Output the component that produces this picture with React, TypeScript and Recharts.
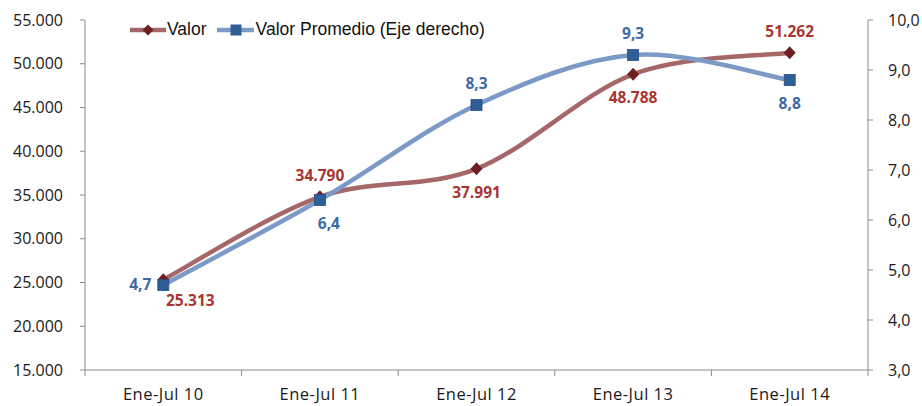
import React from 'react';
import { LineChart, Line, XAxis, YAxis, LabelList } from 'recharts';

const periods = ['Ene-Jul 10', 'Ene-Jul 11', 'Ene-Jul 12', 'Ene-Jul 13', 'Ene-Jul 14'];
const valor = [25313, 34790, 37991, 48788, 51262];
const promedio = [4.7, 6.4, 8.3, 9.3, 8.8];
const leftTicks = [15000, 20000, 25000, 30000, 35000, 40000, 45000, 50000, 55000];
const rightTicks = [3, 4, 5, 6, 7, 8, 9, 10];

// where each value label sits relative to its point
const valorLabelPos = ['belowRight', 'above', 'below', 'below', 'above'];
const promedioLabelPos = ['left', 'belowRight', 'above', 'above', 'below'];

const data = periods.map((p, i) => ({ name: p, valor: valor[i], promedio: promedio[i] }));

const RED_LINE = '#a56767';
const RED_MARK = '#6e1f22';
const RED_TEXT = '#a8352f';
const BLUE_LINE = '#7b9bc6';
const BLUE_MARK = '#2f5e97';
const BLUE_TEXT = '#3d6aa5';
const AXIS = '#8c8c8c';
const TICK_FONT = '"Open Sans", "Noto Sans", sans-serif';

const PLOT_W = 783;
const BAND = PLOT_W / periods.length;

// Excel-like smoothed line (catmull-rom style bezier)
const smoothCurve = (context: any) => {
  let pts: [number, number][] = [];
  return {
    areaStart() {},
    areaEnd() {},
    lineStart() {
      pts = [];
    },
    point(x: number, y: number) {
      pts.push([+x, +y]);
    },
    lineEnd() {
      if (!pts.length) return;
      context.moveTo(pts[0][0], pts[0][1]);
      for (let i = 0; i < pts.length - 1; i++) {
        const p0 = pts[i - 1] ?? pts[i];
        const p1 = pts[i];
        const p2 = pts[i + 1];
        const p3 = pts[i + 2] ?? p2;
        context.bezierCurveTo(
          p1[0] + (p2[0] - p0[0]) / 6,
          p1[1] + (p2[1] - p0[1]) / 6,
          p2[0] - (p3[0] - p1[0]) / 6,
          p2[1] - (p3[1] - p1[1]) / 6,
          p2[0],
          p2[1]
        );
      }
    },
  };
};

const fmtThousands = (v: number) => v.toLocaleString('de-DE');
const fmtDecimal = (v: number) => v.toFixed(1).replace('.', ',');

const offsets: Record<string, [number, number, string]> = {
  above: [0, -16, 'middle'],
  below: [0, 29, 'middle'],
  belowRight: [27, 26, 'middle'],
  left: [-12, 5, 'end'],
};

const makeLabel = (positions: string[], color: string, fmt: (v: number) => string) =>
  (props: any) => {
    const { x, y, value, index } = props;
    const pos = positions[index] ?? 'above';
    let [dx, dy, anchor] = offsets[pos];
    if (color === BLUE_TEXT && pos === 'belowRight') {
      dx = 9;
      dy = 29;
    }
    return (
      <text
        x={x + dx}
        y={y + dy}
        textAnchor={anchor as any}
        fill={color}
        fontFamily={TICK_FONT}
        fontWeight={700}
        fontSize={15.5}
      >
        {fmt(value)}
      </text>
    );
  };

const Diamond = (props: any) => {
  const { cx, cy } = props;
  if (cx == null || cy == null) return null;
  return (
    <path
      d={`M${cx},${cy - 6.5} L${cx + 6},${cy} L${cx},${cy + 6.5} L${cx - 6},${cy} Z`}
      fill={RED_MARK}
    />
  );
};

const Square = (props: any) => {
  const { cx, cy } = props;
  if (cx == null || cy == null) return null;
  return <rect x={cx - 5.5} y={cy - 5.5} width={11} height={11} fill={BLUE_MARK} stroke="#264f82" strokeWidth={0.8} />;
};

const CategoryTick = (props: any) => {
  const { x, y, payload, index } = props;
  const last = index === periods.length - 1;
  return (
    <g>
      <line x1={x - BAND / 2} y1={y - 8} x2={x - BAND / 2} y2={y - 2} stroke={AXIS} />
      {last && <line x1={x + BAND / 2} y1={y - 8} x2={x + BAND / 2} y2={y - 2} stroke={AXIS} />}
      <text
        x={x}
        y={y + 22}
        textAnchor="middle"
        fill="#1a1a1a"
        fontFamily={TICK_FONT}
        fontSize={16.5}
        letterSpacing={0.5}
      >
        {payload.value}
      </text>
    </g>
  );
};

function LegendBox() {
  return (
    <div
      style={{
        position: 'absolute',
        left: 130,
        top: 19,
        display: 'flex',
        alignItems: 'center',
        fontFamily: '"Liberation Sans", Arial, sans-serif',
        fontSize: 17.5,
        color: '#111',
      }}
    >
      <svg width={36} height={12}>
        <line x1={0} y1={6} x2={36} y2={6} stroke={RED_LINE} strokeWidth={4.5} />
        <path d="M18,0.5 L23.5,6 L18,11.5 L12.5,6 Z" fill={RED_MARK} />
      </svg>
      <span style={{ marginLeft: 1, marginRight: 10 }}>Valor</span>
      <svg width={37} height={12}>
        <line x1={0} y1={6} x2={37} y2={6} stroke={BLUE_LINE} strokeWidth={4.5} />
        <rect x={13.5} y={0.5} width={11} height={11} fill={BLUE_MARK} />
      </svg>
      <span style={{ marginLeft: 2 }}>Valor Promedio (Eje derecho)</span>
    </div>
  );
}

export default function App() {
  return (
    <div style={{ position: 'absolute', left: 0, top: 0, width: 922, height: 406, background: '#fff' }}>
      <LineChart
        width={922}
        height={406}
        data={data}
        margin={{ top: 20, right: 4, left: 15, bottom: 2 }}
      >
        <XAxis
          dataKey="name"
          padding={{ left: BAND / 2, right: BAND / 2 }}
          tickLine={false}
          axisLine={{ stroke: AXIS }}
          tick={<CategoryTick />}
          height={34}
          interval={0}
        />
        <YAxis
          yAxisId="left"
          width={70}
          domain={[15000, 55000]}
          ticks={leftTicks}
          tickFormatter={fmtThousands}
          tickSize={5}
          tickMargin={17}
          axisLine={{ stroke: AXIS }}
          tickLine={{ stroke: AXIS }}
          tick={{ fill: '#1a1a1a', fontSize: 16, fontFamily: TICK_FONT }}
          allowDataOverflow
        />
        <YAxis
          yAxisId="right"
          orientation="right"
          width={50}
          domain={[3, 10]}
          ticks={rightTicks}
          tickFormatter={fmtDecimal}
          tickSize={5}
          tickMargin={15}
          axisLine={{ stroke: AXIS }}
          tickLine={{ stroke: AXIS }}
          tick={{ fill: '#1a1a1a', fontSize: 16, fontFamily: TICK_FONT }}
          allowDataOverflow
        />
        <Line
          yAxisId="left"
          dataKey="valor"
          type={smoothCurve as any}
          stroke={RED_LINE}
          strokeWidth={4.5}
          dot={<Diamond />}
          activeDot={false}
          isAnimationActive={false}
        >
          <LabelList dataKey="valor" content={makeLabel(valorLabelPos, RED_TEXT, fmtThousands)} />
        </Line>
        <Line
          yAxisId="right"
          dataKey="promedio"
          type={smoothCurve as any}
          stroke={BLUE_LINE}
          strokeWidth={4.5}
          dot={<Square />}
          activeDot={false}
          isAnimationActive={false}
        >
          <LabelList dataKey="promedio" content={makeLabel(promedioLabelPos, BLUE_TEXT, fmtDecimal)} />
        </Line>
      </LineChart>
      <LegendBox />
    </div>
  );
}
